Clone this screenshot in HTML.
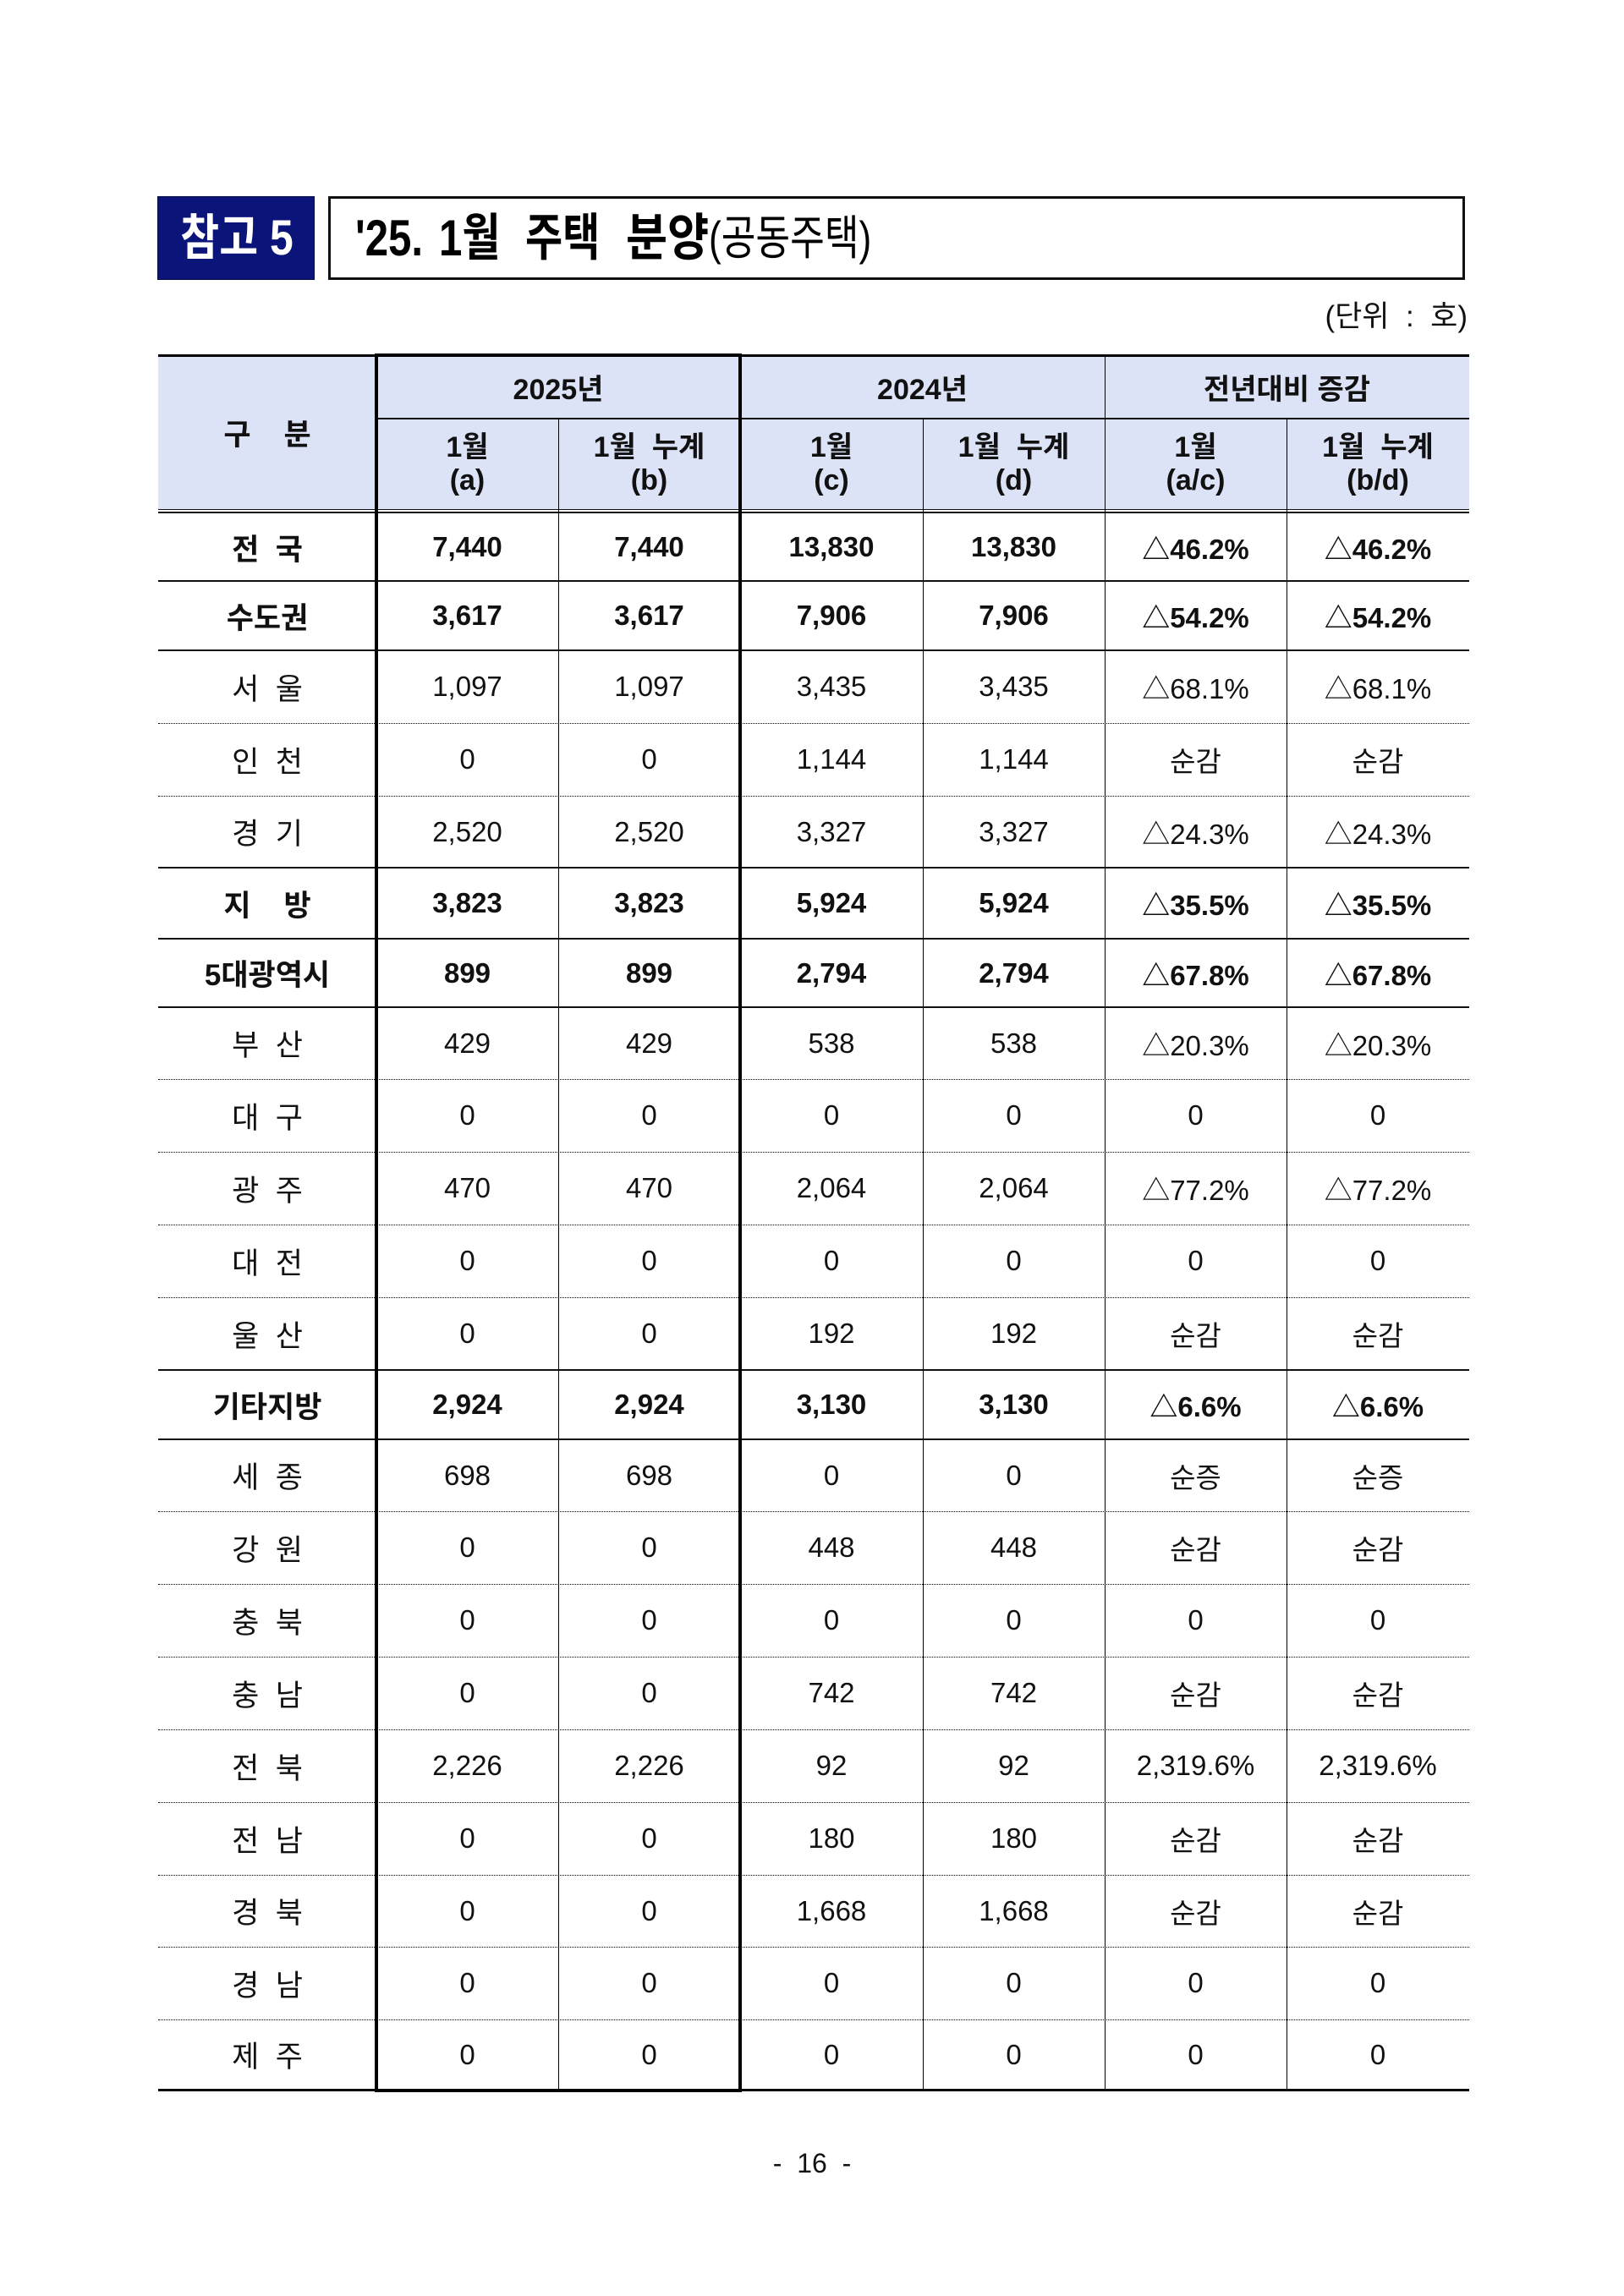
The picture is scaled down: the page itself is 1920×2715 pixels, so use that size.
<!DOCTYPE html>
<html>
<head>
<meta charset="utf-8">
<style>
  html,body{margin:0;padding:0;}
  body{width:1920px;height:2715px;background:#fff;position:relative;overflow:hidden;
       font-family:"Liberation Sans","Noto Sans CJK KR",sans-serif;color:#111;}
  .abs{position:absolute;}
  .navy{left:186px;top:232px;width:186px;height:99px;background:#0b1478;box-sizing:border-box;border:1px solid #050a40;}
  .navy span{position:absolute;left:0;top:0;width:186px;height:97px;line-height:97px;text-align:center;
       color:#fff;font-weight:bold;font-size:58px;transform:scaleX(0.86);transform-origin:center;}
  .tbox{left:388px;top:232px;width:1344px;height:99px;box-sizing:border-box;border:3px solid #111;}
  .tw{position:absolute;top:232px;height:99px;line-height:99px;font-weight:bold;font-size:60px;white-space:nowrap;transform-origin:left center;color:#000;}
  .unit{right:185px;top:352px;font-size:35px;line-height:46px;white-space:nowrap;color:#111;}
  .hbg{left:187px;top:420px;width:1550px;height:182px;background:#dde3f6;}
  .hs{position:absolute;left:187px;width:1550px;height:2px;background:#111;}
  .hd{position:absolute;left:187px;width:1550px;height:0;border-top:1px dotted #000;}
  .v{position:absolute;width:1px;background:#000;}
  .hc{position:absolute;display:flex;align-items:center;justify-content:center;text-align:center;font-weight:bold;font-size:34px;white-space:nowrap;color:#111;}
  .hc2{line-height:39px;}
  .r{position:absolute;left:187px;width:1550px;display:flex;}
  .r>div{display:flex;align-items:center;justify-content:center;white-space:nowrap;font-size:33px;}
  .r>div:nth-child(1){width:258px;font-size:35px;}
  .r>div:nth-child(2){width:215px;}
  .r>div:nth-child(3){width:215px;}
  .r>div:nth-child(4){width:216px;}
  .r>div:nth-child(5){width:215px;}
  .r>div:nth-child(6){width:215px;}
  .r>div:nth-child(7){width:216px;}
  .b{font-weight:bold;}
  .box{left:443px;top:418px;width:434px;height:2056px;box-sizing:border-box;border:4px solid #000;}
  .pg{left:0;width:1920px;top:2536px;text-align:center;font-size:32px;line-height:44px;color:#111;}
</style>
</head>
<body>

<!-- Title -->
<div class="abs navy"><span>참고&nbsp;5</span></div>
<div class="abs tbox"></div>
<span class="tw" style="left:420px;transform:scaleX(0.82);">'25.</span>
<span class="tw" style="left:519px;transform:scaleX(0.82);">1월</span>
<span class="tw" style="left:621px;transform:scaleX(0.80);">주택</span>
<span class="tw" style="left:740px;transform:scaleX(0.89);">분양</span>
<span class="tw" style="left:838px;font-weight:normal;font-size:56px;transform:scaleX(0.79);">(공동주택)</span>

<div class="abs unit">(단위&nbsp;&nbsp;:&nbsp;&nbsp;호)</div>

<!-- header background -->
<div class="abs hbg"></div>

<!-- header lines -->
<div class="abs" style="left:187px;top:419px;width:1550px;height:3px;background:#000;"></div>
<div class="abs" style="left:445px;top:494px;width:1292px;height:2px;background:#111;"></div>
<div class="abs" style="left:187px;top:602px;width:1550px;height:1px;background:#111;"></div>
<div class="abs" style="left:187px;top:605px;width:1550px;height:2px;background:#111;"></div>

<!-- vertical lines -->
<div class="v" style="left:660px;top:495px;height:1977px;"></div>
<div class="v" style="left:1091px;top:495px;height:1977px;"></div>
<div class="v" style="left:1306px;top:420px;height:2052px;"></div>
<div class="v" style="left:1521px;top:495px;height:1977px;"></div>

<!-- header text -->
<div class="hc" style="left:187px;top:420px;width:258px;height:182px;font-size:35px;">구&nbsp;&nbsp;&nbsp;&nbsp;분</div>
<div class="hc" style="left:445px;top:420px;width:430px;height:75px;">2025년</div>
<div class="hc" style="left:875px;top:420px;width:431px;height:75px;">2024년</div>
<div class="hc" style="left:1306px;top:420px;width:431px;height:75px;">전년대비 증감</div>

<div class="hc hc2" style="left:445px;top:495px;width:215px;height:107px;">1월<br>(a)</div>
<div class="hc hc2" style="left:660px;top:495px;width:215px;height:107px;">1월&nbsp;&nbsp;누계<br>(b)</div>
<div class="hc hc2" style="left:875px;top:495px;width:216px;height:107px;">1월<br>(c)</div>
<div class="hc hc2" style="left:1091px;top:495px;width:215px;height:107px;">1월&nbsp;&nbsp;누계<br>(d)</div>
<div class="hc hc2" style="left:1306px;top:495px;width:215px;height:107px;">1월<br>(a/c)</div>
<div class="hc hc2" style="left:1521px;top:495px;width:216px;height:107px;">1월&nbsp;&nbsp;누계<br>(b/d)</div>

<!-- data rows -->
<div class="r b" style="top:607px;height:80px;"><div>전&nbsp;&nbsp;국</div><div>7,440</div><div>7,440</div><div>13,830</div><div>13,830</div><div>△46.2%</div><div>△46.2%</div></div>
<div class="hs" style="top:686px;"></div>

<div class="r b" style="top:687px;height:82px;"><div>수도권</div><div>3,617</div><div>3,617</div><div>7,906</div><div>7,906</div><div>△54.2%</div><div>△54.2%</div></div>
<div class="hs" style="top:768px;"></div>

<div class="r" style="top:769px;height:86px;"><div>서&nbsp;&nbsp;울</div><div>1,097</div><div>1,097</div><div>3,435</div><div>3,435</div><div>△68.1%</div><div>△68.1%</div></div>
<div class="hd" style="top:855px;"></div>

<div class="r" style="top:855px;height:86px;"><div>인&nbsp;&nbsp;천</div><div>0</div><div>0</div><div>1,144</div><div>1,144</div><div>순감</div><div>순감</div></div>
<div class="hd" style="top:941px;"></div>

<div class="r" style="top:941px;height:85px;"><div>경&nbsp;&nbsp;기</div><div>2,520</div><div>2,520</div><div>3,327</div><div>3,327</div><div>△24.3%</div><div>△24.3%</div></div>
<div class="hs" style="top:1025px;"></div>

<div class="r b" style="top:1026px;height:84px;"><div>지&nbsp;&nbsp;&nbsp;&nbsp;방</div><div>3,823</div><div>3,823</div><div>5,924</div><div>5,924</div><div>△35.5%</div><div>△35.5%</div></div>
<div class="hs" style="top:1109px;"></div>

<div class="r b" style="top:1110px;height:81px;"><div>5대광역시</div><div>899</div><div>899</div><div>2,794</div><div>2,794</div><div>△67.8%</div><div>△67.8%</div></div>
<div class="hs" style="top:1190px;"></div>

<div class="r" style="top:1191px;height:85px;"><div>부&nbsp;&nbsp;산</div><div>429</div><div>429</div><div>538</div><div>538</div><div>△20.3%</div><div>△20.3%</div></div>
<div class="hd" style="top:1276px;"></div>

<div class="r" style="top:1276px;height:86px;"><div>대&nbsp;&nbsp;구</div><div>0</div><div>0</div><div>0</div><div>0</div><div>0</div><div>0</div></div>
<div class="hd" style="top:1362px;"></div>

<div class="r" style="top:1362px;height:86px;"><div>광&nbsp;&nbsp;주</div><div>470</div><div>470</div><div>2,064</div><div>2,064</div><div>△77.2%</div><div>△77.2%</div></div>
<div class="hd" style="top:1448px;"></div>

<div class="r" style="top:1448px;height:86px;"><div>대&nbsp;&nbsp;전</div><div>0</div><div>0</div><div>0</div><div>0</div><div>0</div><div>0</div></div>
<div class="hd" style="top:1534px;"></div>

<div class="r" style="top:1534px;height:86px;"><div>울&nbsp;&nbsp;산</div><div>0</div><div>0</div><div>192</div><div>192</div><div>순감</div><div>순감</div></div>
<div class="hs" style="top:1619px;"></div>

<div class="r b" style="top:1620px;height:82px;"><div>기타지방</div><div>2,924</div><div>2,924</div><div>3,130</div><div>3,130</div><div>△6.6%</div><div>△6.6%</div></div>
<div class="hs" style="top:1701px;"></div>

<div class="r" style="top:1702px;height:85px;"><div>세&nbsp;&nbsp;종</div><div>698</div><div>698</div><div>0</div><div>0</div><div>순증</div><div>순증</div></div>
<div class="hd" style="top:1787px;"></div>

<div class="r" style="top:1787px;height:86px;"><div>강&nbsp;&nbsp;원</div><div>0</div><div>0</div><div>448</div><div>448</div><div>순감</div><div>순감</div></div>
<div class="hd" style="top:1873px;"></div>

<div class="r" style="top:1873px;height:86px;"><div>충&nbsp;&nbsp;북</div><div>0</div><div>0</div><div>0</div><div>0</div><div>0</div><div>0</div></div>
<div class="hd" style="top:1959px;"></div>

<div class="r" style="top:1959px;height:86px;"><div>충&nbsp;&nbsp;남</div><div>0</div><div>0</div><div>742</div><div>742</div><div>순감</div><div>순감</div></div>
<div class="hd" style="top:2045px;"></div>

<div class="r" style="top:2045px;height:86px;"><div>전&nbsp;&nbsp;북</div><div>2,226</div><div>2,226</div><div>92</div><div>92</div><div>2,319.6%</div><div>2,319.6%</div></div>
<div class="hd" style="top:2131px;"></div>

<div class="r" style="top:2131px;height:86px;"><div>전&nbsp;&nbsp;남</div><div>0</div><div>0</div><div>180</div><div>180</div><div>순감</div><div>순감</div></div>
<div class="hd" style="top:2217px;"></div>

<div class="r" style="top:2217px;height:85px;"><div>경&nbsp;&nbsp;북</div><div>0</div><div>0</div><div>1,668</div><div>1,668</div><div>순감</div><div>순감</div></div>
<div class="hd" style="top:2302px;"></div>

<div class="r" style="top:2302px;height:86px;"><div>경&nbsp;&nbsp;남</div><div>0</div><div>0</div><div>0</div><div>0</div><div>0</div><div>0</div></div>
<div class="hd" style="top:2388px;"></div>

<div class="r" style="top:2388px;height:83px;"><div>제&nbsp;&nbsp;주</div><div>0</div><div>0</div><div>0</div><div>0</div><div>0</div><div>0</div></div>

<!-- bottom line -->
<div class="abs" style="left:187px;top:2470px;width:1550px;height:3px;background:#000;"></div>

<!-- thick box around 2025 -->
<div class="abs box"></div>

<!-- page number -->
<div class="abs pg">-&nbsp;&nbsp;16&nbsp;&nbsp;-</div>

</body>
</html>
